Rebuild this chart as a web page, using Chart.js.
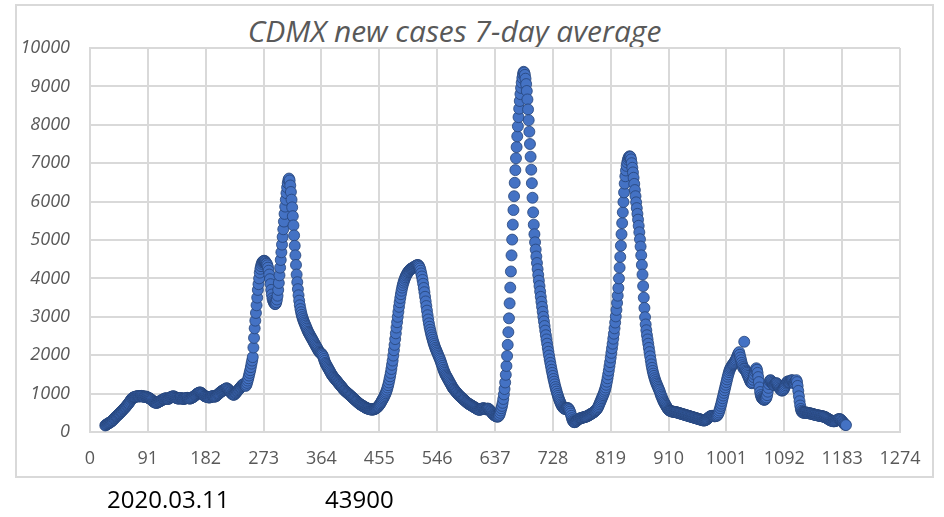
<!DOCTYPE html>
<html>
<head>
<meta charset="utf-8">
<script src="https://cdn.jsdelivr.net/npm/chart.js@4.4.1/dist/chart.umd.min.js"></script>
<style>
  body { margin: 0; background: #fff; width: 944px; height: 517px; overflow: hidden; position: relative; font-family: "Open Sans", sans-serif; }
  #frame { position: absolute; left: 15px; top: 4px; width: 915px; height: 470px; border: 2px solid #d9d9d9; }
  #title { position: absolute; left: 0; top: 16px; width: 909px; text-align: center; font-style: italic; font-size: 30px; line-height: 30px; color: #595959; }
  .note { position: absolute; top: 487px; font-size: 24px; line-height: 24px; color: #000; }
  canvas { position: absolute; left: 0; top: 0; }
</style>
</head>
<body>
<div id="frame"></div>
<div id="title">CDMX new cases 7-day average</div>
<canvas id="chart" width="944" height="517"></canvas>
<span class="note" style="left:107px">2020.03.11</span>
<span class="note" style="left:325px">43900</span>
<script>
// day number since 2020.03.11 -> 7-day average of new cases
const wave1Start = 24;
const wave1 = [
  170,180,195,205,215,225,235,245,255,265,
  280,295,310,325,345,365,380,400,415,430,
  445,460,475,490,510,530,545,560,580,600,
  615,630,650,670,690,710,730,750,775,800,
  825,850,870,885,895,905,910,915,920,925,
  930,930,935,930,925,930,935,940,935,930,
  920,915,920,925,920,910,905,900,890,880,
  870,860,850,835,820,805,790,780,770,765,
  760,760,765,775,785,795,800,810,820,830,
  840,850,855,860,870,880,875,870,865,860,
  870,880,895,905,915,920,925,930,925,915,
  905,895,885,880,875,870,870,875,880,885,
  880,870,865,860,865,870,875,880,885,890,
  885,880,875,870,875,880,890,900,910,920,
  930,945,960,975,990,1000,1010,1020,1025,1030,
  1025,1015,1000,985,970,955,940,930,925,920,
  915,910,905,900,900,905,910,920,930,935,
  930,925,920,925,935,945,960,975,990,1005,
  1020,1035,1050,1060,1070,1080,1090,1100,1110,1120,
  1130,1140,1130,1115,1100,1080,1060,1040,1020,1000,
  985,975,970,975,990,1010,1030,1050,1070,1090,
  1110,1130,1150,1170,1190,1210,1230
];

const wave2Start = 241;
const wave2 = [
  1240,1250,1240,1220,1200,1230,1280,1340,1400,1470,
  1540,1610,1690,1780,1860,1950,2200,2450,2700,2900,
  3100,3300,3500,3700,3850,4000,4150,4250,4320,4380,
  4420,4440,4450,4460,4450,4430,4400,4380,4340,4280,
  4200,4100,3980,3850,3700,3580,3480,3420,3380,3350,
  3330,3340,3380,3450,3550,3700,3880,4080,4280,4480,
  4680,4880,5080,5280,5480,5680,5870,6050,6220,6370,
  6480,6560,6600,6550,6420,6250,6050,5850,5620,5380,
  5120,4850,4600,4350,4100,3900,3720,3560,3420,3300,
  3200,3120,3050,2990,2940,2890,2850,2810,2770,2730,
  2690,2650,2610,2580,2550,2520,2490,2460,2430,2400,
  2370,2340,2310,2280,2250,2220,2190,2160,2130,2100,
  2080,2060,2050,2040,2020,1990,1950,1900,1850,1800,
  1770,1740,1710,1680,1650,1620,1590,1560,1530,1500,
  1475,1450,1430,1410,1390,1370,1350,1330,1310,1290,
  1270,1250,1230,1210,1190,1170,1150,1130,1110,1090,
  1075,1060,1045,1030,1015,1000,985,970,955,940,
  925,910,895,880,865,850,835,820,805,790,
  775,760,745,730,720,710,700,690,680,670,
  660,650,640,630,620,615,610,605,600,595,
  590,588,585,585,585,590,595,600,610,620
];

const wave3Start = 451;
const wave3 = [
  630,645,660,680,700,725,750,780,810,840,
  870,900,935,970,1010,1050,1100,1160,1220,1290,
  1370,1450,1540,1640,1750,1860,1990,2130,2270,2420,
  2570,2720,2860,3000,3130,3260,3380,3490,3590,3680,
  3760,3830,3890,3940,3990,4030,4070,4100,4130,4160,
  4180,4200,4220,4240,4250,4260,4270,4280,4290,4300,
  4310,4320,4330,4340,4345,4350,4330,4300,4260,4200,
  4130,4050,3960,3860,3750,3640,3520,3400,3280,3160,
  3040,2930,2830,2740,2660,2590,2520,2460,2400,2340,
  2290,2240,2190,2150,2110,2070,2030,1990,1950,1910,
  1870,1820,1770,1720,1670,1620,1580,1540,1500,1470,
  1440,1410,1380,1350,1320,1290,1260,1230,1200,1170,
  1140,1120,1100,1080,1060,1040,1020,1000,980,960,
  945,930,915,900,885,870,855,840,825,810,
  795,780,765,750,740,730,720,710,700,690,
  680,670,660,650,640,630,620,610,600,590,
  585,580,580,585,590,600,610,615,620,615,
  605,595,590,595,605,610,600,585,565,545,
  525,505,485,465,450,435,425,415,410,405,
  400,405,420,450,500,560
];

const wave4Start = 647;
const wave4 = [
  620,680,760,860,980,1120,1290,1490,1720,1980,
  2270,2600,2960,3350,3760,4180,4600,5010,5400,5780,
  6140,6490,6820,7130,7420,7700,7960,8200,8420,8620,
  8800,8960,9100,9220,9320,9380,9360,9300,9200,9060,
  8880,8660,8400,8120,7820,7500,7170,6830,6480,6100,
  5720,5400,5150,4940,4750,4570,4400,4240,4090,3940,
  3800,3660,3520,3390,3260,3130,3000,2880,2760,2640,
  2520,2410,2300,2190,2090,1990,1890,1800,1710,1620,
  1540,1460,1380,1310,1240,1170,1110,1050,990,940,
  890,840,800,760,720,690,660,640,620,610,
  600,600,610,620,625,620,600,570,530,480,
  420,360,310,280,260,255,260,270,285,300,
  315,330,340,350,355,360,365,370,375,380,
  385,390,395,400
];

const wave5Start = 781;
const wave5 = [
  405,410,420,430,440,450,460,470,480,490,
  500,510,525,540,555,570,590,615,645,680,
  720,760,800,840,880,920,960,1000,1050,1100,
  1160,1230,1310,1400,1500,1600,1710,1820,1940,2060,
  2180,2300,2430,2560,2700,2850,3010,3180,3360,3550,
  3750,4000,4280,4560,4850,5150,5440,5720,5990,6240,
  6470,6660,6810,6930,7020,7090,7140,7170,7180,7160,
  7100,7000,6880,6760,6620,6460,6300,6140,5980,5830,
  5680,5530,5370,5200,5020,4830,4600,4350,4100,3800,
  3500,3230,2990,2800,2650,2520,2410,2300,2190,2080,
  1970,1860,1760,1670,1590,1520,1460,1400,1350,1300,
  1260,1220,1180,1140,1100,1060,1010,960,920,880,
  840,800,770,740,710,680,650,625,600,580,
  565,555,548,542,536,532,528,526,524,522,
  520,515,510,505,500,495,490,485,480,475,
  470,465,460,455,450,445,440,435,430,425,
  420,415,410,405,400,395,390,385,380,375,
  370,365,360,355,350,345,340,335,330,325,
  320,315,310,305,300,300,305,310,320,330,
  345,360,375,390,400,410,415,420,420,420,
  415,410,410,415,430
];

const wave6Start = 986;
const wave6 = [
  420,440,470,510,560,620,680,740,810,880,
  950,1020,1090,1160,1230,1300,1370,1440,1500,1560,
  1610,1650,1680,1710,1740,1760,1780,1800,1830,1860,
  1890,1930,1970,2010,2050,2080,2010,1940,1870,1800,
  1740,1690,1650,2350,1640,1600,1570,1540,1500,1460,
  1420,1380,1340,1300,1280,1270,1300,1360,1430,1500,
  1570,1620,1660,1620,1540,1430,1300,1160,1040,960,
  910,880,860,850,840,840,850,870,900,960,
  1050,1150,1250,1320,1350,1340,1310,1280,1250,1230,
  1220,1230,1250,1270,1270,1250,1220,1190,1160,1130,
  1110,1090,1080,1080,1090,1110,1140,1180,1220,1260,
  1290,1310,1320,1310,1290,1300,1320,1340,1350,1340,
  1310,1280,1260,1280,1320,1350,1300,1200,1070,930,
  800,690,600,550,520,510,505,500,500,505,
  510,505,500,495,490,490,485,480,480,475,
  470,465,460,455,450,445,440,440,435,430,
  430,425,420,420,415,410,410,405,400,395,
  390,380,370,360,350,340,330,320,310,300,
  295,290,285,280,280,280,285,290,300,310,
  320,330,335,335,330,320,300,280,260,240,
  220,200,190,180
];

const xTickStep = 91;
const xMax = 1274;
const yTickStep = 1000;
const yMax = 10000;

const waves = [
  [wave1Start, wave1], [wave2Start, wave2], [wave3Start, wave3],
  [wave4Start, wave4], [wave5Start, wave5], [wave6Start, wave6]
];
const points = [];
waves.forEach(([start, vals]) => {
  vals.forEach((v, i) => points.push({ x: start + i, y: v }));
});

const gridColor = '#d9d9d9';
const labelColor = '#595959';

new Chart(document.getElementById('chart').getContext('2d'), {
  type: 'scatter',
  data: {
    datasets: [{
      data: points,
      backgroundColor: '#4472c4',
      borderColor: 'rgba(38, 68, 120, 0.8)',
      borderWidth: 1,
      pointRadius: 5.5,
      pointHoverRadius: 5.5
    }]
  },
  options: {
    responsive: false,
    animation: false,
    events: [],
    layout: { padding: { left: 0, top: 48, right: 44, bottom: 45 } },
    plugins: { legend: { display: false }, tooltip: { enabled: false } },
    scales: {
      x: {
        type: 'linear',
        min: 0,
        max: xMax,
        ticks: {
          stepSize: xTickStep,
          padding: 16,
          color: labelColor,
          font: { family: 'Open Sans', size: 18 },
          callback: v => String(v)
        },
        grid: { color: gridColor, lineWidth: 2, drawTicks: false },
        border: { color: gridColor, width: 2 },
        afterFit(scale) { scale.height = 40; }
      },
      y: {
        min: 0,
        max: yMax,
        ticks: {
          stepSize: yTickStep,
          padding: 20,
          color: labelColor,
          font: { family: 'Open Sans', size: 18, style: 'italic' },
          callback: v => String(v)
        },
        grid: { color: gridColor, lineWidth: 2, drawTicks: false },
        border: { color: gridColor, width: 2 },
        afterFit(scale) { scale.width = 90; }
      }
    }
  }
});
</script>
</body>
</html>
